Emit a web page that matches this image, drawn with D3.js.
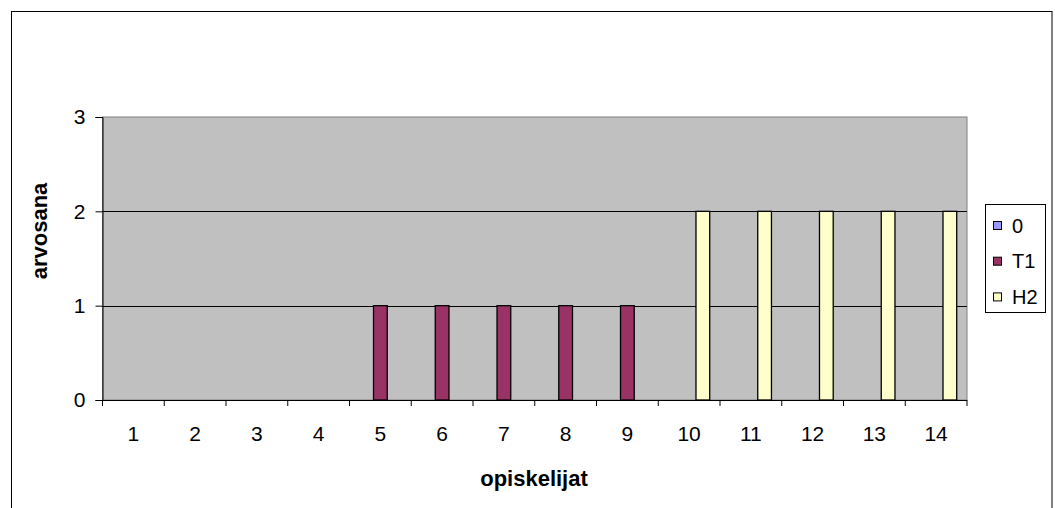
<!DOCTYPE html>
<html>
<head>
<meta charset="utf-8">
<script src="https://cdn.jsdelivr.net/npm/d3@7"></script>
<style>
  html, body { margin: 0; padding: 0; background: #fff; }
  svg { display: block; font-family: Arial, "Liberation Sans", sans-serif; }
</style>
</head>
<body>
<svg id="chart" width="1055" height="508"></svg>
<script>
// Students and grades
const categories = ["1","2","3","4","5","6","7","8","9","10","11","12","13","14"];
const seriesNames = ["0", "T1", "H2"];
const series0 = [0, 0, 0, 0, null, null, null, null, null, null, null, null, null, null];
const seriesT1 = [null, null, null, null, 1, 1, 1, 1, 1, null, null, null, null, null];
const seriesH2 = [null, null, null, null, null, null, null, null, null, 2, 2, 2, 2, 2];
const seriesColors = ["#9999FF", "#993366", "#FFFFCC"];
const yTicks = [0, 1, 2, 3];

const allSeries = [series0, seriesT1, seriesH2];
const FONT = "Arial, 'Liberation Sans', sans-serif";

const svg = d3.select("#chart");
const plot = { left: 102.5, right: 967, top: 117, bottom: 400 };

// outer chart frame
svg.append("rect")
  .attr("x", 11.5).attr("y", 11.5)
  .attr("width", 1040.5).attr("height", 520)
  .attr("fill", "#fff").attr("stroke", "#000").attr("stroke-width", 1);

const x0 = d3.scaleBand().domain(categories).range([plot.left, plot.right]).paddingInner(0).paddingOuter(0);
const x1 = d3.scaleBand().domain(seriesNames).range([0, x0.bandwidth()]).paddingInner(0).paddingOuter(0.75);
const y = d3.scaleLinear().domain([0, 3]).range([plot.bottom, plot.top]);

// plot area background
svg.append("rect")
  .attr("x", plot.left).attr("y", plot.top)
  .attr("width", plot.right - plot.left).attr("height", plot.bottom - plot.top)
  .attr("fill", "#C0C0C0").attr("stroke", "#808080").attr("stroke-width", 1);

// horizontal gridlines
svg.append("g")
  .selectAll("line")
  .data(yTicks.filter(t => t > 0 && t < 3))
  .join("line")
  .attr("x1", plot.left).attr("x2", plot.right)
  .attr("y1", d => Math.round(y(d)) + 0.5).attr("y2", d => Math.round(y(d)) + 0.5)
  .attr("stroke", "#000").attr("stroke-width", 1);

// bars
const bars = [];
allSeries.forEach((vals, si) => {
  vals.forEach((v, ci) => {
    if (v !== null && v > 0) bars.push({ s: seriesNames[si], si, c: categories[ci], v });
  });
});
svg.append("g")
  .selectAll("rect")
  .data(bars)
  .join("rect")
  .attr("x", d => x0(d.c) + x1(d.s))
  .attr("y", d => y(d.v))
  .attr("width", x1.bandwidth())
  .attr("height", d => y(0) - y(d.v))
  .attr("fill", d => seriesColors[d.si])
  .attr("stroke", "#000").attr("stroke-width", 1.3);

// y axis
const yAxis = d3.axisLeft(y).tickValues(yTicks).tickSize(7).tickPadding(10).tickFormat(d3.format("d"));
const gy = svg.append("g").attr("transform", `translate(${plot.left},0)`).call(yAxis);
gy.select(".domain").attr("stroke", "#000");
gy.selectAll(".tick line").attr("stroke", "#000");
gy.selectAll("text").attr("font-size", 21).attr("fill", "#000").attr("font-family", FONT);

// x axis: ticks at category boundaries, labels centered in each category
const gx = svg.append("g").attr("transform", `translate(0,${plot.bottom})`);
gx.append("line")
  .attr("x1", plot.left).attr("x2", plot.right).attr("y1", 0.5).attr("y2", 0.5)
  .attr("stroke", "#000");
const bounds = categories.map(c => x0(c)).concat([plot.right]);
gx.selectAll("line.tick")
  .data(bounds)
  .join("line").attr("class", "tick")
  .attr("x1", d => d).attr("x2", d => d).attr("y1", 0).attr("y2", 6)
  .attr("stroke", "#000");
gx.selectAll("text")
  .data(categories)
  .join("text")
  .attr("x", d => x0(d) + x0.bandwidth() / 2)
  .attr("y", 41)
  .attr("text-anchor", "middle")
  .attr("font-size", 21)
  .text(d => d);

// axis titles
svg.append("text")
  .attr("x", 534).attr("y", 486)
  .attr("text-anchor", "middle")
  .attr("font-size", 22).attr("font-weight", "bold")
  .text("opiskelijat");
svg.append("text")
  .attr("transform", "translate(47,231) rotate(-90)")
  .attr("text-anchor", "middle")
  .attr("font-size", 22).attr("font-weight", "bold")
  .text("arvosana");

// legend
const legend = svg.append("g");
legend.append("rect")
  .attr("x", 985.5).attr("y", 204.5).attr("width", 60).attr("height", 108)
  .attr("fill", "#fff").attr("stroke", "#000");
const rows = legend.selectAll("g.row")
  .data(seriesNames)
  .join("g").attr("class", "row")
  .attr("transform", (d, i) => `translate(0,${225.5 + i * 35.7})`);
rows.append("rect")
  .attr("x", 993.5).attr("y", -4).attr("width", 8).attr("height", 8)
  .attr("fill", (d, i) => seriesColors[i]).attr("stroke", "#000");
rows.append("text")
  .attr("x", 1012).attr("y", 7)
  .attr("font-size", 20)
  .text(d => d);
</script>
</body>
</html>
